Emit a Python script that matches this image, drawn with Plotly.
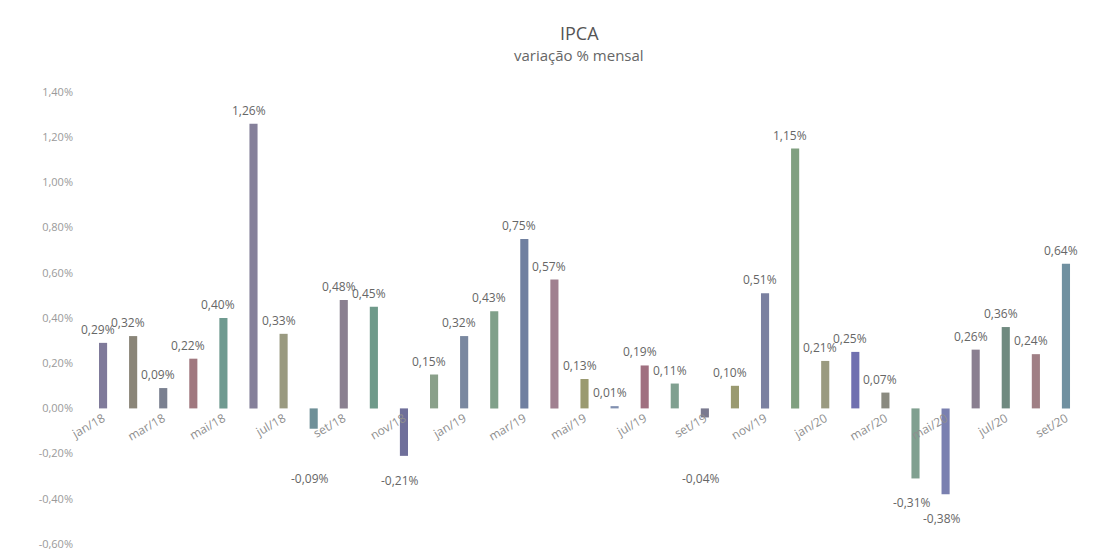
import plotly.graph_objects as go

months = ["jan/18","fev/18","mar/18","abr/18","mai/18","jun/18","jul/18","ago/18","set/18","out/18","nov/18","dez/18",
          "jan/19","fev/19","mar/19","abr/19","mai/19","jun/19","jul/19","ago/19","set/19","out/19","nov/19","dez/19",
          "jan/20","fev/20","mar/20","abr/20","mai/20","jun/20","jul/20","ago/20","set/20"]
ipca = [0.29,0.32,0.09,0.22,0.40,1.26,0.33,-0.09,0.48,0.45,-0.21,0.15,
        0.32,0.43,0.75,0.57,0.13,0.01,0.19,0.11,-0.04,0.10,0.51,1.15,
        0.21,0.25,0.07,-0.31,-0.38,0.26,0.36,0.24,0.64]
bar_colors = ["#7f7a9a","#8a8578","#7a8090","#a0787f","#6f9a90","#85809a","#9a9a80","#6f9098","#8a8090","#6f9a8a","#6f6f9a","#8aa08a",
              "#7a88a0","#80a08a","#7080a0","#a08090","#9a9a70","#8090b0","#a07080","#80a090","#7a7a90","#9a9a70","#7a80a0","#80a080",
              "#9a9a80","#7070b0","#8a8a80","#80a090","#7a80b0","#8a7f90","#708a80","#a07f85","#7090a0"]
tick_labels = months[::2]
y_ticks = [-0.6,-0.4,-0.2,0,0.2,0.4,0.6,0.8,1.0,1.2,1.4]

ymin, ymax = -0.6, 1.4
top, bottom = 84, 12
px_per_unit = (555 - top - bottom) / (ymax - ymin)

fig = go.Figure()
fig.add_trace(go.Bar(
    x=months, y=ipca, marker=dict(color=bar_colors, line=dict(width=0)), hoverinfo="x+y",
))

label_font = dict(family="Open Sans", size=12, color="#666666")
annotations = []
for m, v in zip(months, ipca):
    label = f"{v:.2f}%".replace(".", ",")
    if v >= 0:
        annotations.append(dict(x=m, y=v, xref="x", yref="y", text=label, showarrow=False,
                                yanchor="bottom", yshift=3, xshift=-5, font=label_font))
    else:
        drop = max(14, (0.26 + v) * px_per_unit)
        annotations.append(dict(x=m, y=v, xref="x", yref="y", text=label, showarrow=False,
                                yanchor="top", yshift=-drop, xshift=-4, font=label_font))

annotations += [
    dict(text="IPCA", xref="paper", yref="paper", x=(571-80)/993, y=1, yanchor="middle", yshift=84-25,
         showarrow=False, font=dict(family="Open Sans", size=18, color="#555555")),
    dict(text="variação % mensal", xref="paper", yref="paper", x=(571-80)/993, y=1, yanchor="middle", yshift=84-47,
         showarrow=False, font=dict(family="Open Sans", size=15, color="#666666")),
]

fig.update_layout(
    width=1119, height=555, margin=dict(l=80, r=46, t=top, b=bottom),
    paper_bgcolor="white", plot_bgcolor="white", separators=",.",
    bargap=0.73, showlegend=False,
    xaxis=dict(type="category", range=[-0.5, len(months) - 0.5],
               tickmode="array", tickvals=tick_labels, ticktext=tick_labels,
               tickangle=-30, showgrid=False, showline=False, ticks="",
               anchor="free", position=(0 - ymin) / (ymax - ymin),
               tickfont=dict(family="Open Sans", size=12, color="#8f8f8f")),
    yaxis=dict(range=[ymin, ymax], tickvals=y_ticks,
               ticktext=[f"{v:.2f}%".replace(".", ",") for v in y_ticks],
               showgrid=False, zeroline=False, showline=False, ticklabelstandoff=14,
               tickfont=dict(family="Open Sans", size=11, color="#9a9a9a")),
    annotations=annotations,
)
fig.write_html("out.html")
